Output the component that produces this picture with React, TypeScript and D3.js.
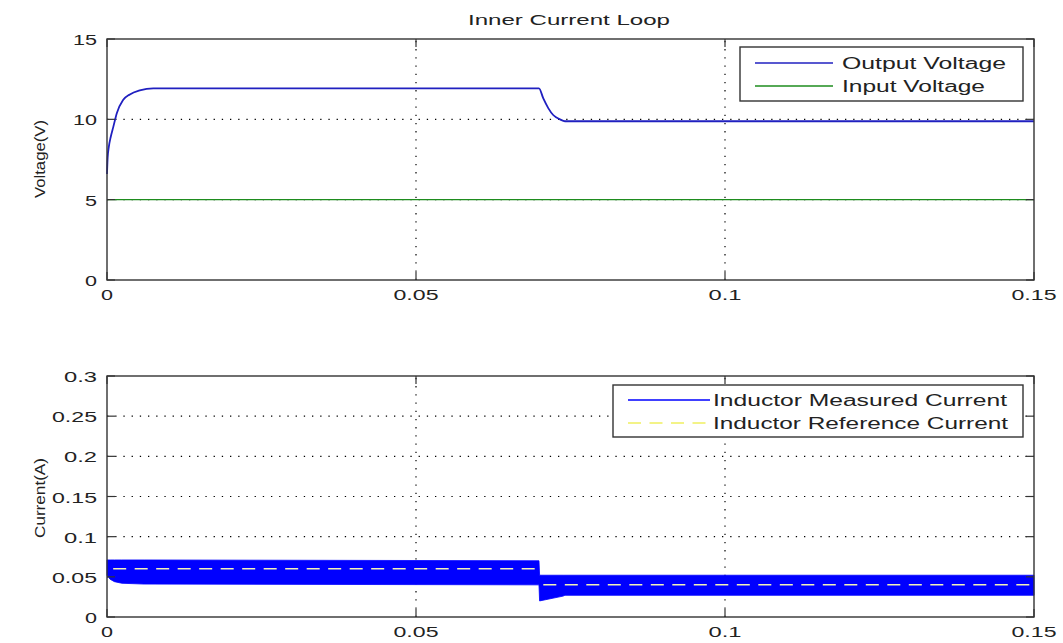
import React from "react";
import * as d3 from "d3";

// ---- data ----
const voltageTime = [0, 0.0001, 0.0003, 0.0006, 0.001, 0.0016, 0.0026, 0.0037, 0.0053, 0.0075, 0.0699, 0.0706, 0.0714, 0.0722, 0.0733, 0.0741, 0.15];
const outputVoltage = [6.6, 7.6, 8.3, 8.9, 9.5, 10.4, 11.2, 11.55, 11.8, 11.93, 11.93, 11.3, 10.7, 10.27, 10.0, 9.88, 9.88];
const inputTime = [0, 0.15];
const inputVoltage = [5, 5];

const currentTime = [0, 0.0005, 0.0012, 0.0024, 0.006, 0.0699, 0.07, 0.0738, 0.0741, 0.15];
const currentUpper = [0.071, 0.071, 0.071, 0.071, 0.071, 0.07, 0.052, 0.052, 0.052, 0.052];
const currentLower = [0.052, 0.047, 0.044, 0.042, 0.041, 0.04, 0.02, 0.026, 0.027, 0.027];

const refStepTimes = [0, 0.07, 0.15];
const refLevels = [0.06, 0.04];

const xTicks = [0, 0.05, 0.1, 0.15];
const xTickLabels = ["0", "0.05", "0.1", "0.15"];
const voltageTicks = [0, 5, 10, 15];
const voltageTickLabels = ["0", "5", "10", "15"];
const currentTicks = [0, 0.05, 0.1, 0.15, 0.2, 0.25, 0.3];
const currentTickLabels = ["0", "0.05", "0.1", "0.15", "0.2", "0.25", "0.3"];

// ---- style ----
const FONT = "'Liberation Sans', Arial, sans-serif";
const AXIS = "#333";
const TEXT = "#222";
const BLUE_LINE = "#2020c0";
const BLUE_BAND = "#0000ff";
const GREEN = "#1e8c1e";
const REF = "#f2f2b8";

const labelWidth = (s: string) =>
  s.split("").reduce((w, c) => w + (c === "." ? 9 : 12), 0);

type Scale = d3.ScaleLinear<number, number>;

function Txt(props: {
  x: number; y: number; s: string; len: number; size: number;
  anchor?: "start" | "middle" | "end"; rotate?: boolean;
}) {
  const { x, y, s, len, size, anchor = "start", rotate } = props;
  return (
    <text
      x={rotate ? 0 : x}
      y={rotate ? 0 : y}
      transform={rotate ? `translate(${x},${y}) rotate(-90)` : undefined}
      fontFamily={FONT}
      fontSize={size}
      fill={TEXT}
      textAnchor={anchor}
      textLength={len}
      lengthAdjust="spacingAndGlyphs"
    >
      {s}
    </text>
  );
}

function Frame(props: {
  x: Scale; y: Scale; yTicks: number[]; yLabels: string[];
  gridY: number[]; xLabelBaseline: number; children?: React.ReactNode;
}) {
  const { x, y, yTicks, yLabels, gridY, xLabelBaseline, children } = props;
  const [x0, x1] = x.range();
  const [y0, y1] = y.range(); // y0 bottom, y1 top
  const tick = 8;
  return (
    <g>
      {/* dotted grid */}
      {xTicks.slice(1, -1).map((t) => (
        <line key={"gx" + t} x1={x(t)} x2={x(t)} y1={y0} y2={y1}
          stroke="#000" strokeWidth={1.2} strokeDasharray="1.3,6.9" />
      ))}
      {gridY.map((t) => (
        <line key={"gy" + t} x1={x0} x2={x1} y1={y(t)} y2={y(t)}
          stroke="#000" strokeWidth={1.2} strokeDasharray="1.3,6.9" />
      ))}
      {children}
      {/* box */}
      <rect x={x0} y={y1} width={x1 - x0} height={y0 - y1}
        fill="none" stroke={AXIS} strokeWidth={1.4} />
      {/* ticks on all four sides */}
      {xTicks.map((t) => (
        <g key={"tx" + t}>
          <line x1={x(t)} x2={x(t)} y1={y0} y2={y0 - tick} stroke={AXIS} strokeWidth={1.2} />
          <line x1={x(t)} x2={x(t)} y1={y1} y2={y1 + tick} stroke={AXIS} strokeWidth={1.2} />
        </g>
      ))}
      {yTicks.map((t) => (
        <g key={"ty" + t}>
          <line x1={x0} x2={x0 + tick} y1={y(t)} y2={y(t)} stroke={AXIS} strokeWidth={1.2} />
          <line x1={x1} x2={x1 - tick} y1={y(t)} y2={y(t)} stroke={AXIS} strokeWidth={1.2} />
        </g>
      ))}
      {/* tick labels */}
      {xTicks.map((t, i) => (
        <Txt key={"lx" + t} x={x(t)} y={xLabelBaseline} s={xTickLabels[i]}
          len={labelWidth(xTickLabels[i])} size={15} anchor="middle" />
      ))}
      {yTicks.map((t, i) => (
        <Txt key={"ly" + t} x={97} y={y(t) + 6} s={yLabels[i]}
          len={labelWidth(yLabels[i])} size={15} anchor="end" />
      ))}
    </g>
  );
}

function Legend(props: {
  x: number; y: number; w: number; h: number; lineX0: number; lineX1: number;
  textX: number; rows: { label: string; color: string; dash?: string; len: number; y: number }[];
}) {
  const { x, y, w, h, lineX0, lineX1, textX, rows } = props;
  return (
    <g>
      <rect x={x} y={y} width={w} height={h} fill="#fff" stroke={AXIS} strokeWidth={1.4} />
      {rows.map((r) => (
        <g key={r.label}>
          <line x1={lineX0} x2={lineX1} y1={r.y} y2={r.y} stroke={r.color}
            strokeWidth={1.3} strokeDasharray={r.dash} />
          <Txt x={textX} y={r.y + 6} s={r.label} len={r.len} size={16} />
        </g>
      ))}
    </g>
  );
}

export default function App() {
  const x = d3.scaleLinear().domain([0, 0.15]).range([107, 1034]);
  const yV = d3.scaleLinear().domain([0, 15]).range([280, 39]);
  const yI = d3.scaleLinear().domain([0, 0.3]).range([617, 376]);

  const vLine = d3.line<number>()
    .x((_, i) => x(voltageTime[i]))
    .y((d) => yV(d))
    .curve(d3.curveMonotoneX);
  const inLine = d3.line<number>()
    .x((_, i) => x(inputTime[i]))
    .y((d) => yV(d));
  const band = d3.area<number>()
    .x((_, i) => x(currentTime[i]))
    .y0((_, i) => yI(currentLower[i]))
    .y1((d) => yI(d));
  const refLine = d3.line<[number, number]>()
    .x((d) => x(d[0]))
    .y((d) => yI(d[1]));

  return (
    <svg width={1063} height={643}
      style={{ position: "absolute", left: 0, top: 0, background: "#fff" }}>
      <rect width={1063} height={643} fill="#fff" />
      <Txt x={569} y={25} s="Inner Current Loop" len={202} size={15} anchor="middle" />

      {/* voltage axes */}
      <Frame x={x} y={yV} yTicks={voltageTicks} yLabels={voltageTickLabels}
        gridY={[5, 10]} xLabelBaseline={300}>
        <path d={inLine(inputVoltage) || ""} fill="none" stroke={GREEN} strokeWidth={1.3} />
        <path d={vLine(outputVoltage) || ""} fill="none" stroke={BLUE_LINE} strokeWidth={1.8} />
      </Frame>
      <Txt x={45} y={159} s="Voltage(V)" len={78} size={15} anchor="middle" rotate />
      <Legend x={740} y={47} w={283} h={54} lineX0={755} lineX1={833} textX={842}
        rows={[
          { label: "Output Voltage", color: BLUE_LINE, len: 164, y: 63 },
          { label: "Input Voltage", color: GREEN, len: 143, y: 86 },
        ]} />

      {/* current axes */}
      <Frame x={x} y={yI} yTicks={currentTicks} yLabels={currentTickLabels}
        gridY={[0.05, 0.1, 0.15, 0.2, 0.25]} xLabelBaseline={637}>
        <path d={band(currentUpper) || ""} fill={BLUE_BAND} stroke={BLUE_BAND} strokeWidth={0.8} />
        {refLevels.map((v, i) => (
          <path key={"ref" + i}
            d={refLine([[refStepTimes[i] + (i ? 0.0006 : 0.001), v], [refStepTimes[i + 1], v]]) || ""}
            fill="none" stroke={REF} strokeWidth={1.5} strokeDasharray="13,8.5" />
        ))}
      </Frame>
      <Txt x={45} y={498} s="Current(A)" len={80} size={15} anchor="middle" rotate />
      <Legend x={613} y={385} w={410} h={52} lineX0={628} lineX1={710} textX={713}
        rows={[
          { label: "Inductor Measured Current", color: BLUE_BAND, len: 294, y: 400 },
          { label: "Inductor Reference Current", color: "#f0f060", dash: "13,8.5", len: 295, y: 423 },
        ]} />
    </svg>
  );
}
